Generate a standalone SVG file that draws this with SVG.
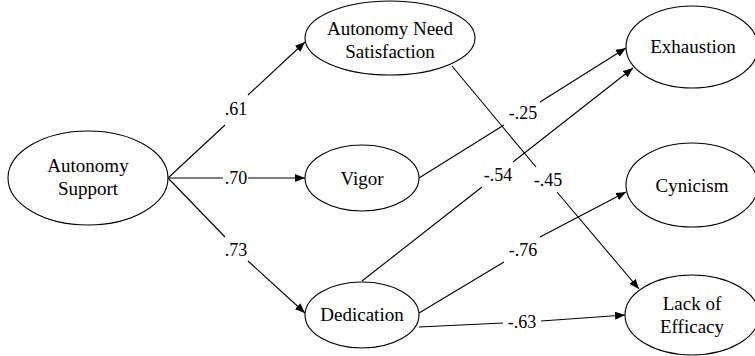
<svg xmlns="http://www.w3.org/2000/svg" width="755" height="356" viewBox="0 0 755 356">
<defs>
<marker id="arr" viewBox="0 0 10 8" refX="10" refY="4" markerWidth="10" markerHeight="8" markerUnits="userSpaceOnUse" orient="auto">
<path d="M0,0 L10,4 L0,8 Z" fill="#000"/>
</marker>
</defs>
<style>
.node ellipse{fill:#fff;stroke:#000;stroke-width:1.1}
.node text{font-size:19px;fill:#000;text-anchor:middle}
.edges path{fill:none;stroke:#000;stroke-width:1.1}
.lbl{font-size:18px;fill:#000;text-anchor:middle}
</style>
<rect width="755" height="356" fill="#fff"/>
<g font-family="'Liberation Serif', 'DejaVu Serif', serif">
<g id="edges" class="edges">
<path d="M168,178 L225,125 M248,95 L305,42" marker-end="url(#arr)"/>
<path d="M168,178 L223,178 M248,178 L305,178" marker-end="url(#arr)"/>
<path d="M168,178 L225,237 M248,261 L305,313" marker-end="url(#arr)"/>
<path d="M452,66 L536,167 M557,192 L639,289" marker-end="url(#arr)"/>
<path d="M419,178 L504,125 M540,102 L626,48" marker-end="url(#arr)"/>
<path d="M362,281 L482,187 M513,162 L633,68" marker-end="url(#arr)"/>
<path d="M419,313 L504,262 M540,237 L626,192" marker-end="url(#arr)"/>
<path d="M419,327 L503,323 M541,321 L625,315" marker-end="url(#arr)"/>
<text class="lbl" x="236" y="115">.61</text>
<text class="lbl" x="236" y="184">.70</text>
<text class="lbl" x="236" y="256">.73</text>
<text class="lbl" x="523" y="119">-.25</text>
<text class="lbl" x="498" y="181">-.54</text>
<text class="lbl" x="548" y="186">-.45</text>
<text class="lbl" x="523" y="256">-.76</text>
<text class="lbl" x="522" y="328">-.63</text>
</g>
<g id="autonomy-support" class="node">
<ellipse cx="88" cy="178" rx="80" ry="47"/>
<text x="88" y="172">Autonomy</text>
<text x="88" y="195">Support</text>
</g>
<g id="autonomy-need-satisfaction" class="node">
<ellipse cx="390" cy="38" rx="85" ry="37"/>
<text x="390" y="35">Autonomy Need</text>
<text x="390" y="58">Satisfaction</text>
</g>
<g id="vigor" class="node">
<ellipse cx="362" cy="178" rx="57" ry="33"/>
<text x="362" y="185">Vigor</text>
</g>
<g id="dedication" class="node">
<ellipse cx="362" cy="315" rx="57" ry="33"/>
<text x="362" y="321">Dedication</text>
</g>
<g id="exhaustion" class="node">
<ellipse cx="692" cy="47" rx="66" ry="41"/>
<text x="693" y="53">Exhaustion</text>
</g>
<g id="cynicism" class="node">
<ellipse cx="692" cy="185" rx="66" ry="42"/>
<text x="692" y="192">Cynicism</text>
</g>
<g id="lack-of-efficacy" class="node">
<ellipse cx="692" cy="315" rx="67" ry="40"/>
<text x="692" y="310">Lack of</text>
<text x="692" y="333">Efficacy</text>
</g>
</g>
</svg>
